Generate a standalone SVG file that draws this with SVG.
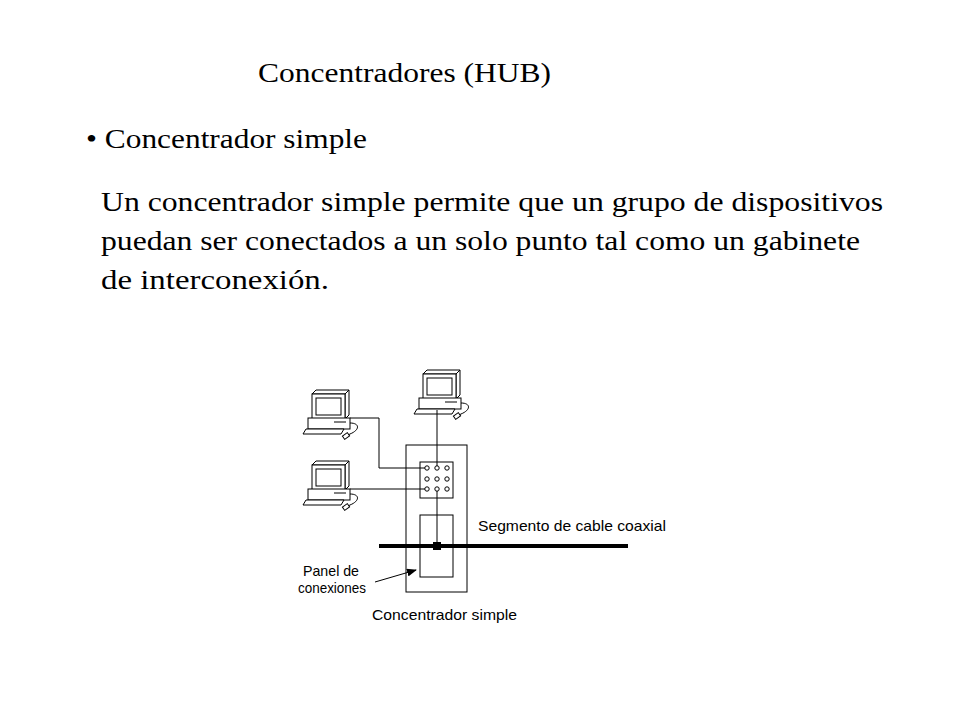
<svg xmlns="http://www.w3.org/2000/svg" width="960" height="720" viewBox="0 0 960 720">
<style>
.t{font-family:"Liberation Sans",serif;font-size:27px;fill:#000}
.t{font-family:"Liberation Serif",serif}
.s{font-family:"Liberation Sans",Arial,sans-serif;font-size:15px;fill:#000}
.w{fill:none;stroke:#000;stroke-width:1}
.b{fill:#fff;stroke:#000;stroke-width:1}
</style>
<defs>
<g id="pc">
<polygon class="b" points="4,2 8,-2 41,-2 37,2"/>
<polygon class="b" points="37,2 41,-2 41,23 37,27"/>
<rect class="b" x="4" y="2" width="33" height="25"/>
<rect class="b" x="8" y="6" width="25" height="17"/>
<rect class="b" x="0" y="26" width="42" height="11"/>
<line class="w" x1="26" y1="30" x2="38" y2="30"/>
<polygon class="b" points="-2,37 36,37 33,42 -5,42"/>
<path class="w" d="M42,31 C52,31 52,38 42,42 L40,43"/>
<rect class="b" x="35" y="42" width="6" height="4" transform="rotate(-35 38 44)"/>
</g>
<marker id="ah" markerWidth="10" markerHeight="8" refX="9" refY="4" orient="auto" markerUnits="userSpaceOnUse"><path d="M0,0 L10,4 L0,8 Z" fill="#000"/></marker>
</defs>
<rect width="960" height="720" fill="#fff"/>
<text class="t" x="258" y="82" textLength="293" lengthAdjust="spacingAndGlyphs">Concentradores (HUB)</text>
<text class="t" x="86" y="148" textLength="281" lengthAdjust="spacingAndGlyphs">• Concentrador simple</text>
<text class="t" x="101" y="211" textLength="782" lengthAdjust="spacingAndGlyphs">Un concentrador simple permite que un grupo de dispositivos</text>
<text class="t" x="101" y="250" textLength="759" lengthAdjust="spacingAndGlyphs">puedan ser conectados a un solo punto tal como un gabinete</text>
<text class="t" x="101" y="289" textLength="228" lengthAdjust="spacingAndGlyphs">de interconexión.</text>
<g id="pc1"><use href="#pc" x="308" y="392"/></g>
<g id="pc2"><use href="#pc" x="308" y="463"/></g>
<g id="pc3"><use href="#pc" x="419" y="372"/></g>
<g id="hub">
<rect class="b" x="406" y="445" width="61" height="147"/>
<rect class="b" x="420" y="462" width="33" height="36"/>
<rect class="b" x="420" y="515" width="33" height="62"/>
<g class="b">
<circle cx="427" cy="468" r="2.2"/><circle cx="437" cy="468" r="2.2"/><circle cx="447" cy="468" r="2.2"/>
<circle cx="427" cy="479" r="2.2"/><circle cx="437" cy="479" r="2.2"/><circle cx="447" cy="479" r="2.2"/>
<circle cx="427" cy="489" r="2.2"/><circle cx="437" cy="489" r="2.2"/><circle cx="447" cy="489" r="2.2"/>
</g>
<text class="s" x="372" y="620" textLength="145" lengthAdjust="spacingAndGlyphs">Concentrador simple</text>
</g>
<g id="coax">
<line x1="379" y1="546" x2="628" y2="546" stroke="#000" stroke-width="4"/>
<rect x="433" y="542" width="8" height="8" fill="#000"/>
<text class="s" x="478" y="531" textLength="188" lengthAdjust="spacingAndGlyphs">Segmento de cable coaxial</text>
</g>
<g id="connectors">
<polyline class="w" points="350,418 379,418 379,468 425,468"/>
<line class="w" x1="350" y1="489" x2="425" y2="489"/>
<line class="w" x1="437" y1="410" x2="437" y2="466"/>
<line class="w" x1="437" y1="491" x2="437" y2="545"/>
<line class="w" x1="375" y1="582" x2="416" y2="570" marker-end="url(#ah)"/>
</g>
<g id="label-panel">
<text class="s" x="303" y="576" textLength="56" lengthAdjust="spacingAndGlyphs">Panel de</text>
<text class="s" x="298" y="593" textLength="68" lengthAdjust="spacingAndGlyphs">conexiones</text>
</g>
</svg>
